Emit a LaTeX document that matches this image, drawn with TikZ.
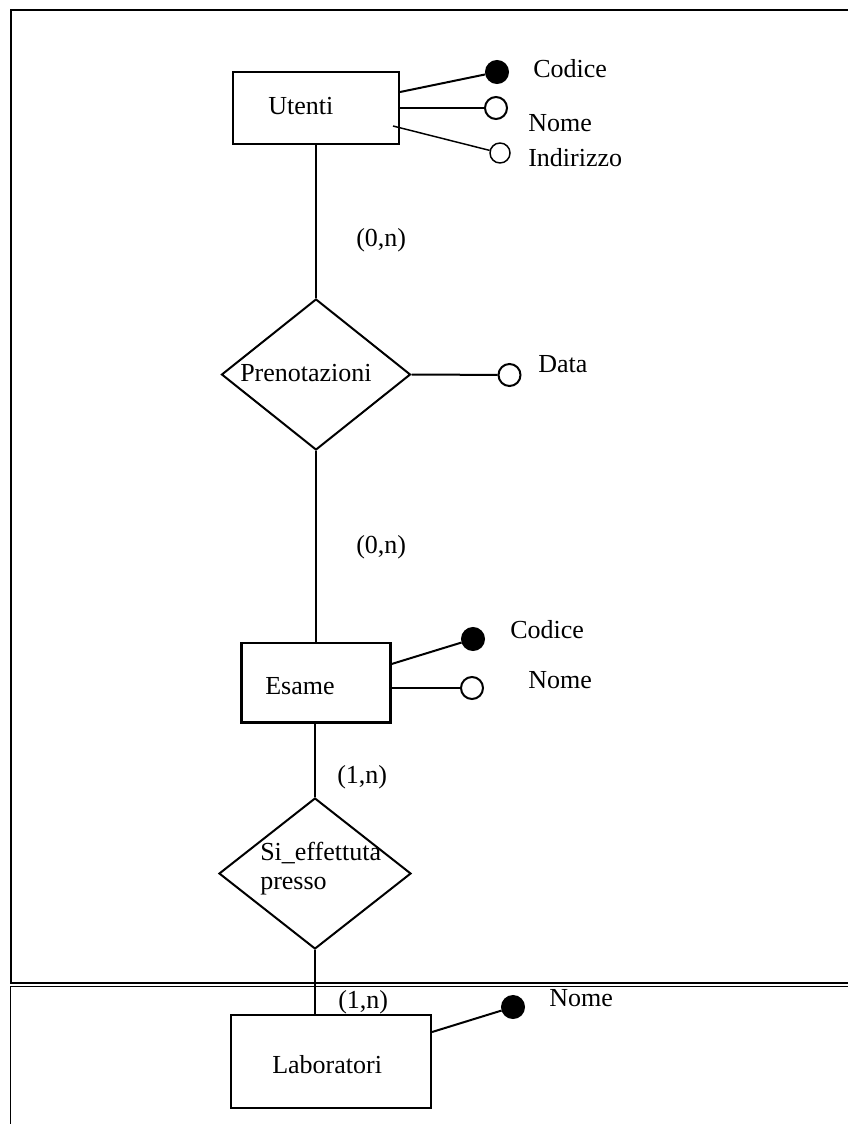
\documentclass[tikz,border=0pt]{standalone}
\usepackage{fontspec}
\setmainfont{Liberation Serif}
\usetikzlibrary{shapes.geometric}
\tikzset{
  lbl/.style={inner sep=0pt, anchor=base west, font=\fontsize{19.5}{23}\selectfont},
  entity/.style={draw, line width=1.6pt, inner sep=0pt},
  relation/.style={draw, diamond, line width=1.5pt, inner sep=0pt},
  keyattr/.style={circle, fill=black, draw, line width=1pt, inner sep=0pt, minimum size=17pt},
  attrc/.style={circle, draw, fill=white, line width=1.5pt, inner sep=0pt, minimum size=16.5pt},
  smallattr/.style={circle, draw, fill=white, line width=1.1pt, inner sep=0pt, minimum size=15pt},
  conn/.style={line width=1.5pt},
  frameline/.style={line width=1.5pt}
}
\begin{document}
\begin{tikzpicture}[x=0.75pt,y=-0.75pt]
\useasboundingbox (0,0) rectangle (848,1124);

% Utenti
\node[entity, minimum width=124.5pt, minimum height=54pt] (utenti) at (316,108) {};
\node[lbl] (utentiL) at (268,114.5) {Utenti};
\node[keyattr] (ucod) at (497,72) {};
\node[attrc] (unome) at (496,108) {};
\node[smallattr] (uind) at (500,153) {};
\coordinate (uindS) at (393,126);
\draw[conn] (utenti.east |- 0,92) -- (ucod);
\draw[conn] (utenti.east) -- (unome);
\draw[conn, line width=1.1pt] (uindS) -- (uind);
\node[lbl] (ucodL) at (533,78) {Codice};
\node[lbl] (unomeL) at (528,131) {Nome};
\node[lbl] (uindL) at (528,166.5) {Indirizzo};

% Prenotazioni
\node[relation, minimum width=141.75pt, minimum height=113.25pt] (pren) at (316,374.5) {};
\node[lbl] (prenL) at (240,381.5) {Prenotazioni};
\node[attrc] (pdata) at (509.5,375) {};
\draw[conn] (pren.east) -- (pdata);
\node[lbl] (pdataL) at (538,372) {Data};
\draw[conn] (utenti.south) -- (pren.north);
\node[lbl] (card1) at (356,246) {(0,n)};

% Esame
\node[entity, minimum width=111.75pt, minimum height=59.6pt] (esame) at (316,682.75) {};
\node[lbl] (esameL) at (265,694) {Esame};
\draw[conn] (pren.south) -- (pren.south |- esame.north);
\node[lbl] (card2) at (356,553) {(0,n)};
\node[keyattr] (ecod) at (473,639) {};
\node[attrc] (enome) at (472,688) {};
\draw[conn] (esame.east |- 0,664) -- (ecod);
\draw[conn] (esame.east |- 0,688) -- (enome);
\node[lbl] (ecodL) at (510,638.5) {Codice};
\node[lbl] (enomeL) at (528,688.5) {Nome};

% Si_effettuta presso
\node[relation, minimum width=144pt, minimum height=113.25pt] (sieff) at (315,873.5) {};
\node[lbl] (sieffL1) at (260,860.5) {Si\_effettuta};
\node[lbl] (sieffL2) at (260,889.5) {presso};
\draw[conn] (sieff.north |- esame.south) -- (sieff.north);
\node[lbl] (card3) at (337,783) {(1,n)};

% Laboratori
\node[entity, minimum width=150pt, minimum height=69.75pt] (lab) at (331,1061.5) {};
\node[lbl] (labL) at (272,1073.5) {Laboratori};
\draw[conn] (sieff.south) -- (sieff.south |- lab.north);
\node[lbl] (card4) at (338,1008) {(1,n)};
\node[keyattr] (lnome) at (513,1007) {};
\draw[conn] (lab.east |- 0,1032) -- (lnome);
\node[lbl] (lnomeL) at (549,1006.5) {Nome};

% frame
\draw[frameline] (848,10.5) -- (10.8,10.5) -- (10.8,984);
\draw[line width=0.8pt] (10.8,986) -- (10.8,1124);
\draw[line width=1.2pt] (10,982.8) -- (848,982.8);
\draw[line width=1.2pt] (10,986.5) -- (848,986.5);
\end{tikzpicture}
\end{document}
